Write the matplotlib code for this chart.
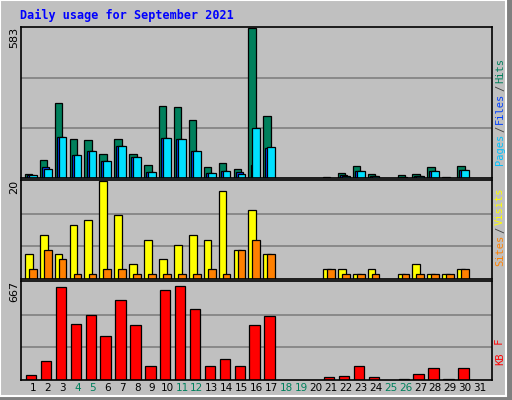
import matplotlib
matplotlib.use("Agg")
import matplotlib.pyplot as plt
from matplotlib.patches import Rectangle

W, H = 512, 400

days = list(range(1, 32))
weekend = [4, 5, 11, 12, 18, 19, 25, 26]

# day values, 0 means no traffic
hits = [16, 69, 294, 152, 148, 92, 152, 92, 49, 282, 278, 227, 41, 57, 37, 583, 243,
        0, 0, 0, 3, 18, 46, 14, 0, 10, 14, 42, 3, 46, 0]
files = [13, 37, 160, 88, 104, 65, 124, 81, 25, 156, 152, 104, 21, 29, 17, 195, 120,
         0, 0, 0, 0, 8, 26, 9, 0, 0, 9, 26, 0, 30, 0]
pages = [13, 41, 160, 88, 104, 65, 124, 81, 25, 156, 152, 104, 21, 29, 25, 49, 116,
         0, 0, 0, 0, 10, 26, 9, 0, 3, 9, 26, 0, 30, 0]
visits = [5, 9, 5, 11, 12, 20, 13, 3, 8, 4, 7, 9, 8, 18, 6, 14, 5,
          0, 0, 0, 2, 2, 1, 2, 0, 1, 3, 1, 1, 2, 0]
sites = [2, 6, 4, 1, 1, 2, 2, 1, 1, 1, 1, 1, 2, 1, 6, 8, 5,
         0, 0, 0, 2, 1, 1, 1, 0, 1, 1, 1, 1, 2, 0]
kbytes = [35, 131, 630, 384, 440, 300, 545, 377, 96, 615, 643, 482, 96, 145, 96, 377, 433,
          0, 0, 0, 19, 26, 96, 19, 0, 5, 40, 82, 5, 82, 0]

BG = "#c0c0c0"
fig = plt.figure(figsize=(W / 100, H / 100), dpi=100, facecolor=BG)

# outer frame with shadow
fig.patches.append(Rectangle((0, 0), 1, 1, transform=fig.transFigure,
                             facecolor="#808080", edgecolor="none", zorder=-2))
fig.patches.append(Rectangle((0, 4 / H), 1 - 6 / W, 1 - 4 / H, transform=fig.transFigure,
                             facecolor=BG, edgecolor="white", lw=1.5, zorder=-1))

fig.text(20 / W, 1 - 15 / H, "Daily usage for September 2021", color="#0000ff",
         family="DejaVu Sans Mono", weight="bold", fontsize=8.5, va="center")


def panel(top, bottom, ymax):
    ax = fig.add_axes([21 / W, 1 - bottom / H, 471 / W, (bottom - top) / H])
    ax.set_facecolor(BG)
    ax.set_xlim(0.2, 31.8)
    ax.set_ylim(0, ymax * 1.01)
    for f in (1 / 3, 2 / 3):
        ax.axhline(ymax * f, color="#808080", lw=1.2, zorder=0)
    ax.set_xticks([])
    ax.set_yticks([])
    for s in ax.spines.values():
        s.set_linewidth(1.2)
    return ax


def bars(ax, vals, off, width, color):
    xs = [d + off for d, v in zip(days, vals) if v > 0]
    vs = [v for v in vals if v > 0]
    ax.bar(xs, vs, width=width, align="edge", color=color, edgecolor="black", lw=0.9)


ax1 = panel(27, 178, 583)
bars(ax1, hits, -0.54, 0.5, "#00805c")
bars(ax1, pages, -0.40, 0.5, "#0040ff")
bars(ax1, files, -0.27, 0.52, "#00e0ff")

ax2 = panel(180, 279, 20)
bars(ax2, visits, -0.54, 0.52, "#ffff00")
bars(ax2, sites, -0.27, 0.52, "#ff8000")

ax3 = panel(281, 380, 667)
bars(ax3, kbytes, -0.47, 0.7, "#ff0000")

# max labels
for y, txt in ((27, "583"), (180, "20"), (281, "667")):
    fig.text(14 / W, 1 - y / H, txt, rotation=90, ha="center", va="top", fontsize=8)


# right legends, stacked bottom to top
def vlegend(ybottom, parts):
    y = 1 - ybottom / H
    for txt, col in parts:
        fig.text(500 / W, y, txt, rotation=90, ha="center", va="bottom",
                 family="DejaVu Sans Mono", fontsize=7.5, color=col)
        y += (len(txt) * 6.3 + 1.5) / H


vlegend(165, [("Pages", "#00c0ff"), ("/", "#404040"), ("Files", "#0040ff"),
              ("/", "#404040"), ("Hits", "#00805c")])
vlegend(266, [("Sites", "#ff8000"), ("/", "#404040"), ("Visits", "#ffff00")])
vlegend(365, [("KB", "#ff0000"), (" F", "#ff0000")])

# day labels
for d in days:
    x = (21 + (d - 0.2) / 31.6 * 471) / W
    col = "#00805c" if d in weekend else "black"
    fig.text(x, 1 - 388 / H, str(d), ha="center", va="center", fontsize=7.5, color=col)

fig.savefig("out.png", dpi=100, facecolor=BG)
